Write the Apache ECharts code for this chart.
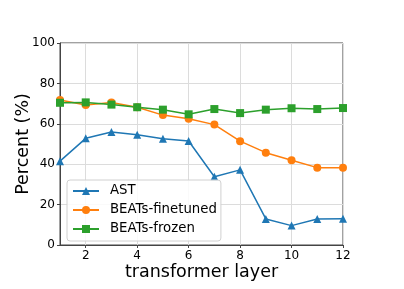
<!DOCTYPE html>
<html><head><meta charset="utf-8">
<script src="https://cdn.jsdelivr.net/npm/echarts@6/dist/echarts.min.js"></script>
<style>html,body{margin:0;padding:0;background:#fff}#c{width:404px;height:289px}</style>
</head><body><div id="c"></div>
<script>
const layers = [1,2,3,4,5,6,7,8,9,10,11,12];
const xTicks = [2,4,6,8,10,12];
const astValues = [41.5, 52.8, 55.9, 54.6, 52.6, 51.5, 33.8, 37.2, 12.9, 9.6, 12.9, 13.0];
const finetunedValues = [71.8, 69.3, 70.5, 68.2, 64.3, 62.5, 59.6, 51.4, 45.7, 42.0, 38.3, 38.2];
const frozenValues = [70.4, 70.6, 69.5, 68.2, 67.0, 64.7, 67.3, 65.3, 67.0, 67.7, 67.3, 67.8];
const seriesNames = ['AST', 'BEATs-finetuned', 'BEATs-frozen'];

const font = 'DejaVu Sans';
const pair = v => layers.map((l, i) => [l, v[i]]);
const chart = echarts.init(document.getElementById('c'), null, {renderer: 'canvas'});
const mk = (name, vals, color, symbol, size) => ({
  name, type: 'line', data: pair(vals), symbol, symbolSize: size,
  itemStyle: {color}, lineStyle: {color, width: 1.5}, showSymbol: true
});
chart.setOption({
  animation: false,
  grid: {left: 60, right: 61, top: 43, bottom: 44, show: true, borderColor: '#444', borderWidth: 1, outerBoundsMode: 'none'},
  xAxis: {
    type: 'value', min: 1, max: 12,
    name: 'transformer layer', nameLocation: 'middle', nameGap: 18, nameMoveOverlap: false,
    nameTextStyle: {fontFamily: font, fontSize: 17.5, color: '#000'},
    axisLine: {show: true, lineStyle: {color: '#444'}},
    axisTick: {show: true, length: 3, customValues: xTicks, lineStyle: {color: '#444'}},
    axisLabel: {customValues: xTicks, fontFamily: font, fontSize: 12, color: '#000', margin: 5},
    splitLine: {show: true, lineStyle: {color: '#dcdcdc', width: 1}}
  },
  yAxis: {
    type: 'value', min: 0, max: 100, interval: 20,
    name: 'Percent (%)', nameLocation: 'middle', nameGap: 28, nameMoveOverlap: false,
    nameTextStyle: {fontFamily: font, fontSize: 17.5, color: '#000'},
    axisLine: {show: true, lineStyle: {color: '#444'}},
    axisTick: {show: true, length: 3, lineStyle: {color: '#444'}},
    axisLabel: {fontFamily: font, fontSize: 12, color: '#000', margin: 5},
    splitLine: {show: true, lineStyle: {color: '#dcdcdc', width: 1}}
  },
  legend: {
    data: seriesNames, orient: 'vertical', left: 67, top: 180,
    backgroundColor: 'rgba(255,255,255,0.85)', borderColor: '#d0d0d0', borderWidth: 1, borderRadius: 3,
    padding: [3, 4, 4, 5], itemGap: 3, itemWidth: 26, itemHeight: 10,
    textStyle: {fontFamily: font, fontSize: 13.3, lineHeight: 16, color: '#000', padding: [0, 0, 0, 6]}
  },
  series: [
    mk(seriesNames[0], astValues, '#1f77b4', 'triangle', 8),
    mk(seriesNames[1], finetunedValues, '#ff7f0e', 'circle', 8),
    mk(seriesNames[2], frozenValues, '#2ca02c', 'rect', 8)
  ]
});
</script></body></html>
